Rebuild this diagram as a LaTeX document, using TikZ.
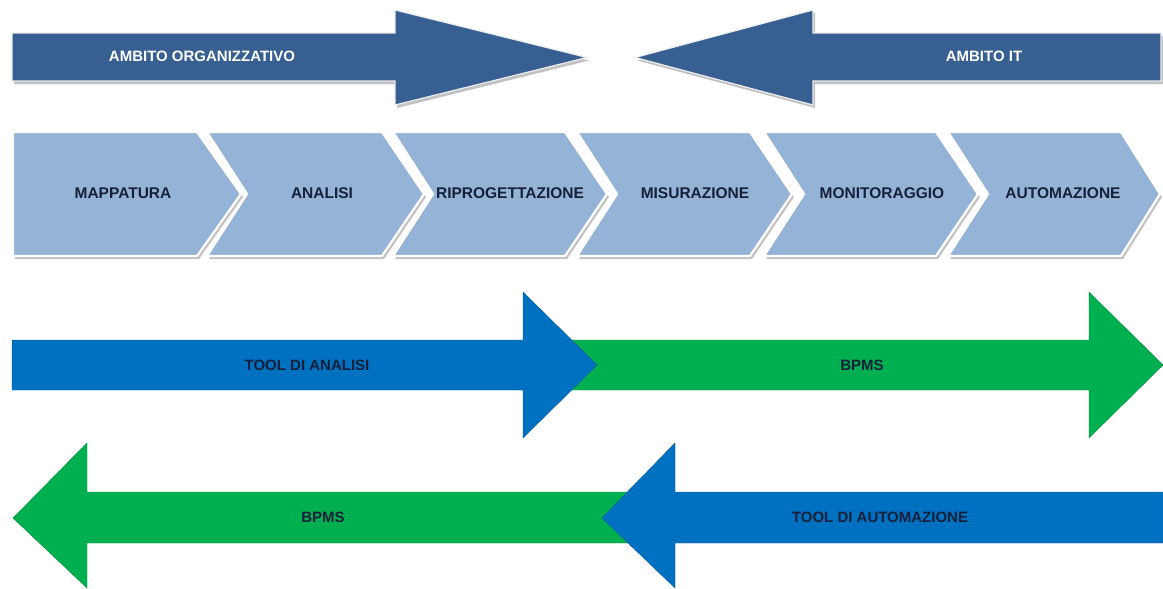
\documentclass[tikz,border=0pt]{standalone}
\usepackage{fontspec}
\setmainfont{Liberation Sans}
\usetikzlibrary{shadows}
\definecolor{scopeblue}{HTML}{375F92}
\definecolor{phaseblue}{HTML}{95B3D7}
\definecolor{toolblue}{HTML}{0070C0}
\definecolor{bpmsgreen}{HTML}{00B050}
\definecolor{labeldark}{HTML}{16203A}
\tikzset{
  scopearrow/.style={fill=scopeblue, draw=white!85!gray, line width=1.2pt, line join=miter,
    drop shadow={shadow xshift=2pt, shadow yshift=-3pt, opacity=0.4, fill=black!60}},
  phasebox/.style={fill=phaseblue, draw=white, line width=2.2pt, line join=miter,
    drop shadow={shadow xshift=2pt, shadow yshift=-3pt, opacity=0.4, fill=black!60}},
  toolarrow/.style={fill=toolblue, draw=toolblue!80!black, line width=0.4pt},
  bpmsarrow/.style={fill=bpmsgreen, draw=bpmsgreen!80!black, line width=0.4pt},
  scopelabel/.style={text=white, font=\bfseries\fontsize{15}{18}\selectfont, inner sep=0pt},
  phaselabel/.style={text=labeldark, font=\bfseries\fontsize{15.5}{18}\selectfont, inner sep=0pt},
  toollabel/.style={text=labeldark, font=\bfseries\fontsize{15}{18}\selectfont, inner sep=0pt}
}
\begin{document}
\begin{tikzpicture}[x=1pt,y=-1pt]
\useasboundingbox (0,0) rectangle (1163,589);

% scope arrows
\path[scopearrow] (12,33) -- (395,33) -- (395,10) -- (587,57.5) -- (395,105) -- (395,81) -- (12,81) -- cycle;
\path[scopearrow] (1161,33) -- (813,33) -- (813,10) -- (635,57.5) -- (813,105) -- (813,81) -- (1161,81) -- cycle;
\node[scopelabel] (org) at (202,56) {AMBITO ORGANIZZATIVO};
\node[scopelabel] (it) at (984,56) {AMBITO IT};

% process phases
\path[phasebox] (13,132) -- (197,132) -- (241,194) -- (197,256) -- (13,256) -- cycle;
\path[phasebox] (207,132) -- (382,132) -- (424,194) -- (382,256) -- (207,256) -- (247,194) -- cycle;
\path[phasebox] (393,132) -- (565,132) -- (607,194) -- (565,256) -- (393,256) -- (433,194) -- cycle;
\path[phasebox] (577,132) -- (750,132) -- (792,194) -- (750,256) -- (577,256) -- (617,194) -- cycle;
\path[phasebox] (764,132) -- (936,132) -- (978,194) -- (936,256) -- (764,256) -- (804,194) -- cycle;
\path[phasebox] (948,132) -- (1121,132) -- (1160,194) -- (1121,256) -- (948,256) -- (988,194) -- cycle;
\node[phaselabel] (map) at (123,193) {MAPPATURA};
\node[phaselabel] (ana) at (322,193) {ANALISI};
\node[phaselabel] (rip) at (510,193) {RIPROGETTAZIONE};
\node[phaselabel] (mis) at (695,193) {MISURAZIONE};
\node[phaselabel] (mon) at (882,193) {MONITORAGGIO};
\node[phaselabel] (aut) at (1063,193) {AUTOMAZIONE};

% tools, left to right
\path[bpmsarrow] (570,340) -- (1089,340) -- (1089,292) -- (1163,365) -- (1089,438) -- (1089,390) -- (570,390) -- cycle;
\path[toolarrow] (12,340) -- (523,340) -- (523,292) -- (597,365) -- (523,438) -- (523,390) -- (12,390) -- cycle;
\node[toollabel] (tanalisi) at (307,365) {TOOL DI ANALISI};
\node[toollabel] (bpmsr) at (862,365) {BPMS};

% tools, right to left
\path[bpmsarrow] (640,492) -- (87,492) -- (87,443) -- (13,518) -- (87,588) -- (87,543) -- (640,543) -- cycle;
\path[toolarrow] (1163,492) -- (675,492) -- (675,443) -- (602,518) -- (675,588) -- (675,543) -- (1163,543) -- cycle;
\node[toollabel] (bpmsl) at (323,517) {BPMS};
\node[toollabel] (tauto) at (880,517) {TOOL DI AUTOMAZIONE};
\end{tikzpicture}
\end{document}
